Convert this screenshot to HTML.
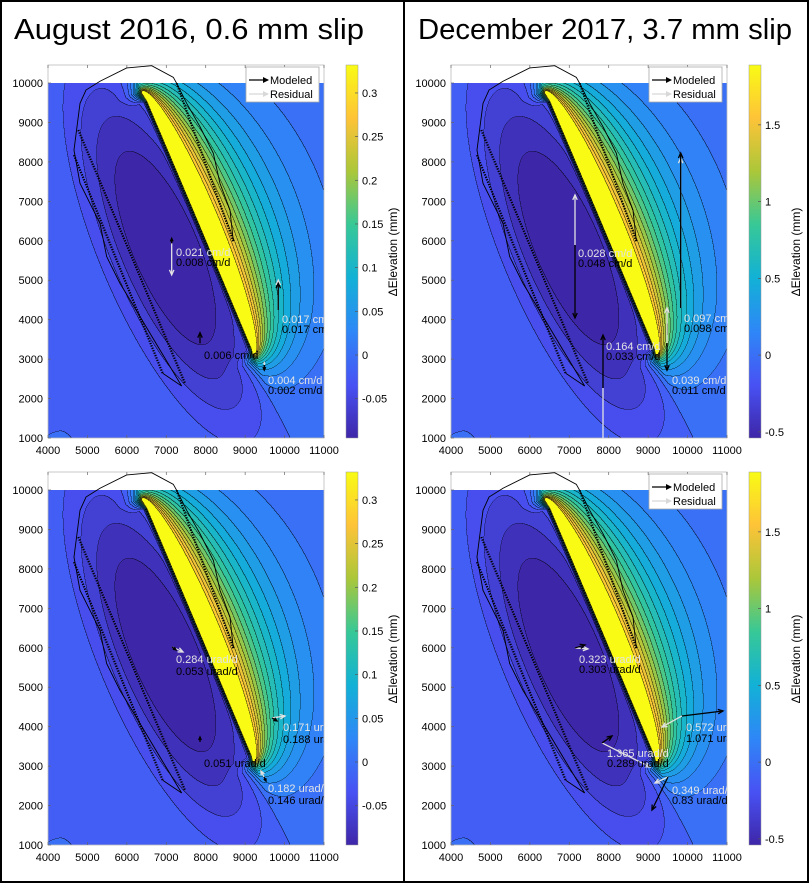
<!DOCTYPE html>
<html><head><meta charset="utf-8">
<style>
html,body{margin:0;padding:0;background:#fff;}
#root{position:relative;width:809px;height:883px;overflow:hidden;background:#fff;}
canvas{position:absolute;}
svg{position:absolute;left:0;top:0;}
text{font-family:"Liberation Sans",Arial,sans-serif;}
</style></head>
<body>
<div id="root">
<svg id="ov" width="809" height="883"></svg>
</div>
<script>
// ---- data ----
const xTicks=[4000,5000,6000,7000,8000,9000,10000,11000];
const yTicks=[1000,2000,3000,4000,5000,6000,7000,8000,9000,10000];
const cbTicksA=[-0.05,0,0.05,0.1,0.15,0.2,0.25,0.3];
const cbTicksB=[-0.5,0,0.5,1,1.5];
const panelCmin=[-0.095,-0.54,-0.095,-0.54];
const panelCmax=[0.332,1.89,0.332,1.89];
const panelTitles=["August 2016, 0.6 mm slip","December 2017, 3.7 mm slip"];
// station arrows (data units)
const arrowPanel=[0,0,0,0, 1,1,1,1, 2,2,2,2, 3,3,3,3];
const arrowX=[7137,9840,7855,9486, 7145,7855,9825,9478, 7145,9681,7855,9478, 7145,9858,7830,9503];
const arrowY=[5936,4245,3400,2850, 5893,2268,4296,3408, 6021,4221,3612,2724, 5996,4271,3587,2724];
const modelDX=[0,0,0,0, 0,0,0,0, 102,127,0,51, 254,1040,254,-406];
const modelDY=[125,680,270,-130, -1850,1340,3930,-690, -76,-76,127,-102, 76,127,178,-837];
const residDX=[0,0,0,0, 0,0,0,0, 279,330,0,-76, 330,-507,1217,-330];
const residDY=[-800,760,0,60, 1270,-1800,3800,890, -127,50,0,152, -25,-279,-609,-152];
// labels
const labelPanel=[0,0,0,0,0,0,0, 1,1,1,1,1,1,1,1, 2,2,2,2,2,2,2, 3,3,3,3,3,3,3,3];
const labelText=["0.021 cm/d","0.008 cm/d","0.017 cm/d","0.017 cm/d","0.006 cm/d","0.004 cm/d","0.002 cm/d",
"0.028 cm/d","0.048 cm/d","0.164 cm/d","0.033 cm/d","0.097 cm/d","0.098 cm/d","0.039 cm/d","0.011 cm/d",
"0.284 urad/d","0.053 urad/d","0.171 urad/d","0.188 urad/d","0.051 urad/d","0.182 urad/d","0.146 urad/d",
"0.323 urad/d","0.303 urad/d","0.572 urad/d","1.071 urad/d","1.365 urad/d","0.289 urad/d","0.349 urad/d","0.83 urad/d"];
const labelWhite=[1,0,1,0,0,1,0, 1,0,1,0,1,0,1,0, 1,0,1,0,0,1,0, 1,0,1,0,1,0,1,0];
const labelLX=[176,176,282,282,204,268,268, 175,175,203,203,281,281,269,269, 176,176,283,283,204,268,268, 176,176,283,283,204,204,269,269];
const labelLY=[256,266,323,333,359,384,394, 257,267,350,360,322,332,384,394, 256,268,324,336,360,385,397, 256,266,324,335,350,360,387,397];
// geology
const outlineX=[8700,8615,8362,8193,7855,7517,7263,7178,6630,5995,5319,4964,4812,4659,4812,5319,5488,5826,6333,6840,7390];
const outlineY=[5990,6780,7456,8217,8892,9485,9992,10144,10438,10382,10044,9822,9485,8300,7456,6440,5600,4920,4080,3230,2318];
const dotLinesX=[[4659,6909],[4768,7474],[6485,9123],[7263,8700]];
const dotLinesY=[[8174,2640],[8808,2386],[9527,3274],[9992,5990]];

// ---- layout ----
const PX=[0,403,0,403], PY=[0,0,407,407];
const L0=48,R0=324,T0=65,B0=438,D10=83;
const NS="http://www.w3.org/2000/svg";
const ov=document.getElementById('ov');
const root=document.getElementById('root');
function sx(p,x){return PX[p]+L0+(x-4000)/7000*(R0-L0);}
function sy(p,y){return PY[p]+B0-(y-1000)/9000*(B0-D10);}
function el(tag,attrs,parent){const e=document.createElementNS(NS,tag);for(const k in attrs)e.setAttribute(k,attrs[k]);(parent||ov).appendChild(e);return e;}

const PAR=[[0.2422,0.1504,0.6603],[0.2810,0.3228,0.9579],[0.1786,0.5289,0.9682],[0.0689,0.6948,0.8394],[0.2161,0.7843,0.5923],[0.6720,0.7793,0.2227],[0.9970,0.7659,0.2199],[0.9769,0.9839,0.0805]];
function parula(t){t=Math.max(0,Math.min(1,t))*7;const i=Math.min(6,Math.floor(t)),f=t-i;const a=PAR[i],b=PAR[i+1];return [0,1,2].map(k=>Math.round(255*(a[k]+(b[k]-a[k])*f)));}

// field model
const FA=[9150,3250],FB=[6500,9530];
const FL=Math.hypot(FB[0]-FA[0],FB[1]-FA[1]);
const tx=(FB[0]-FA[0])/FL,ty=(FB[1]-FA[1])/FL,nx=ty,ny=-tx;
const U1=-150,U2=FL+250,LL=U2-U1;
function shape(x,y){
 const dx=x-FA[0],dy=y-FA[1];
 const u=dx*tx+dy*ty,v=dx*nx+dy*ny;
 const r1=Math.hypot(u-U1,v),r2=Math.hypot(u-U2,v);
 const d=Math.max(0,(r1+r2-LL)/2);
 const ve=Math.sqrt(d*d+LL*d);
 let pos=1.6*Math.exp(-ve/1000);
 const ext=Math.max(0,-u)+Math.max(0,u-FL);
 const t=Math.min(1,ext/300);
 const sig=1/(1+Math.exp(-v/22));
 const soft=Math.exp(Math.min(0,v)/250);
 pos*=(1-t)*sig+t*soft;
 const dv=(v+1000)/1450,du=(u-0.47*FL)/4600;
 const r=Math.sqrt(dv*dv+du*du);
 let neg=-0.29*Math.exp(-r*r*r);
 if(v>0)neg*=Math.exp(-v/500);
 return pos+neg;
}

for(let p=0;p<4;p++){
 const cmin=panelCmin[p],cmax=panelCmax[p];
 const W=R0-L0,H=B0-D10,S=2;
 const cv=document.createElement('canvas');
 
 
 cv.width=W*S;cv.height=H*S;
 cv.style.left=(PX[p]+L0)+'px';cv.style.top=(PY[p]+D10)+'px';
 cv.style.width=W+'px';cv.style.height=H+'px';
 root.insertBefore(cv,ov);
 const ctx=cv.getContext('2d');
 const img=ctx.createImageData(W*S,H*S);
 const step=0.06,kmax=Math.floor(1/step)-1;
 const idx=new Int16Array(W*S*H*S);
 for(let j=0;j<H*S;j++)for(let i=0;i<W*S;i++){
   const x=4000+(i+0.5)/(W*S)*7000,y=10000-(j+0.5)/(H*S)*9000;
   idx[j*W*S+i]=Math.min(kmax,Math.floor(shape(x,y)/step));
 }
 for(let j=0;j<H*S;j++)for(let i=0;i<W*S;i++){
   const k=idx[j*W*S+i];
   const lv=(k>=kmax?1:k*step)*cmax;
   const c=parula((lv-cmin)/(cmax-cmin));
   let line=false;
   if(i<W*S-1&&idx[j*W*S+i+1]!==k)line=true;
   if(j<H*S-1&&idx[(j+1)*W*S+i]!==k)line=true;
   const o=(j*W*S+i)*4,m=line?0.3:1;
   img.data[o]=c[0]*m;img.data[o+1]=c[1]*m;img.data[o+2]=c[2]*m;img.data[o+3]=255;
 }
 ctx.putImageData(img,0,0);
}

// frame
el('rect',{x:1,y:1,width:807,height:881,fill:'none',stroke:'#000','stroke-width':2,});
el('line',{x1:404,y1:0,x2:404,y2:883,stroke:'#000','stroke-width':2,});
panelTitles.forEach((t,i)=>{const e=el('text',{x:i?418:14,y:39,'font-size':29,textLength:i?374:350,lengthAdjust:'spacingAndGlyphs',fill:'#000',});e.textContent=t;});

for(let p=0;p<4;p++){
 const g=el('g',{});
 const ox=PX[p],oy=PY[p];
 const cp=el('clipPath',{id:'clip'+p},g);
 el('rect',{x:ox+L0,y:oy+T0,width:R0-L0,height:B0-T0},cp);
 el('rect',{x:ox+L0,y:oy+T0,width:R0-L0,height:B0-T0,fill:'none',stroke:'#bbb','stroke-width':0.8,},g);
 const xa=el('g',{},g);
 xTicks.forEach(v=>{const X=sx(p,v);
  el('line',{x1:X,y1:oy+T0,x2:X,y2:oy+T0+3,stroke:'#666','stroke-width':0.7},xa);
  el('line',{x1:X,y1:oy+B0,x2:X,y2:oy+B0-3,stroke:'#666','stroke-width':0.7},xa);
  const t=el('text',{x:X,y:oy+454,'font-size':11,'text-anchor':'middle',fill:'#000',},xa);t.textContent=v;});
 const ya=el('g',{},g);
 yTicks.forEach(v=>{const Y=sy(p,v);
  el('line',{x1:ox+L0,y1:Y,x2:ox+L0+3,y2:Y,stroke:'#666','stroke-width':0.7},ya);
  const t=el('text',{x:ox+43,y:Y+4,'font-size':11,'text-anchor':'end',fill:'#000',},ya);t.textContent=v;});
 const geo=el('g',{'clip-path':'url(#clip'+p+')',},g);
 el('polyline',{points:outlineX.map((x,i)=>sx(p,x)+','+sy(p,outlineY[i])).join(' '),fill:'none',stroke:'#000','stroke-width':0.9,},geo);
 dotLinesX.forEach((xs,i)=>{el('line',{x1:sx(p,xs[0]),y1:sy(p,dotLinesY[i][0]),x2:sx(p,xs[1]),y2:sy(p,dotLinesY[i][1]),stroke:'#000','stroke-width':2.2,'stroke-dasharray':'1.3 1.3',},geo);});
 el('line',{x1:sx(p,6909),y1:sy(p,2640),x2:sx(p,7390),y2:sy(p,2318),stroke:'#000','stroke-width':0.9},geo);
 const ar=el('g',{'clip-path':'url(#clip'+p+')',},g);
 function arrow(x0,y0,x1,y1,col,name){
  const len=Math.hypot(x1-x0,y1-y0);if(len<0.5)return;
  const ux=(x1-x0)/len,uy=(y1-y0)/len,h=Math.min(5,len*0.6);
  const a=el('g',{},ar);
  el('line',{x1:x0,y1:y0,x2:x1,y2:y1,stroke:col,'stroke-width':1.3},a);
  el('polyline',{points:(x1-ux*h-uy*h*0.45)+','+(y1-uy*h+ux*h*0.45)+' '+x1+','+y1+' '+(x1-ux*h+uy*h*0.45)+','+(y1-uy*h-ux*h*0.45),fill:'none',stroke:col,'stroke-width':1.3},a);
 }
 arrowPanel.forEach((pp,i)=>{if(pp!==p)return;
  const x0=sx(p,arrowX[i]),y0=sy(p,arrowY[i]);
  arrow(x0,y0,sx(p,arrowX[i]+residDX[i]),sy(p,arrowY[i]+residDY[i]),'#e2e2e2','residual-arrow');
  arrow(x0,y0,sx(p,arrowX[i]+modelDX[i]),sy(p,arrowY[i]+modelDY[i]),'#000','modeled-arrow');
 });
 labelPanel.forEach((pp,i)=>{if(pp!==p)return;
  const t=el('text',{x:ox+labelLX[i],y:oy+labelLY[i],'font-size':11,fill:labelWhite[i]?'#e4e4e4':'#000',},ar);t.textContent=labelText[i];});
 if(p!==2){
  const lg=el('g',{},g);
  el('rect',{x:ox+246,y:oy+67,width:73,height:35,fill:'#fff',stroke:'#aaa','stroke-width':0.8},lg);
  [['Modeled','#000',84],['Residual','#d8d8d8',98]].forEach(r=>{
   const e=el('g',{},lg);
   el('line',{x1:ox+249,y1:oy+r[2]-4,x2:ox+268,y2:oy+r[2]-4,stroke:r[1],'stroke-width':1.2},e);
   el('polygon',{points:(ox+269)+','+(oy+r[2]-4)+' '+(ox+263)+','+(oy+r[2]-7)+' '+(ox+263)+','+(oy+r[2]-1),fill:r[1]},e);
   const t=el('text',{x:ox+270,y:oy+r[2],'font-size':11,fill:'#000'},e);t.textContent=r[0];});
 }
 const cmin=panelCmin[p],cmax=panelCmax[p];
 const cb=el('g',{},g);
 const gr=el('linearGradient',{id:'gr'+p,x1:0,y1:1,x2:0,y2:0},cb);
 for(let k=0;k<=7;k++){const c=parula(k/7);el('stop',{offset:k/7,'stop-color':'rgb('+c.join(',')+')'},gr);}
 el('rect',{x:ox+346,y:oy+T0,width:12,height:B0-T0,fill:'url(#gr'+p+')',stroke:'#999','stroke-width':0.5},cb);
 (p%2?cbTicksB:cbTicksA).forEach(v=>{const Y=oy+B0-(v-cmin)/(cmax-cmin)*(B0-T0);
  el('line',{x1:ox+355,y1:Y,x2:ox+358,y2:Y,stroke:'#555','stroke-width':0.7},cb);
  const t=el('text',{x:ox+362,y:Y+4,'font-size':11,fill:'#000',},cb);t.textContent=v;});
 const cl=el('text',{x:0,y:0,'font-size':12,'text-anchor':'middle',fill:'#000',transform:'translate('+(ox+397)+','+(oy+252)+') rotate(-90)',},cb);cl.textContent='\u0394Elevation (mm)';
}
</script>
</body></html>
